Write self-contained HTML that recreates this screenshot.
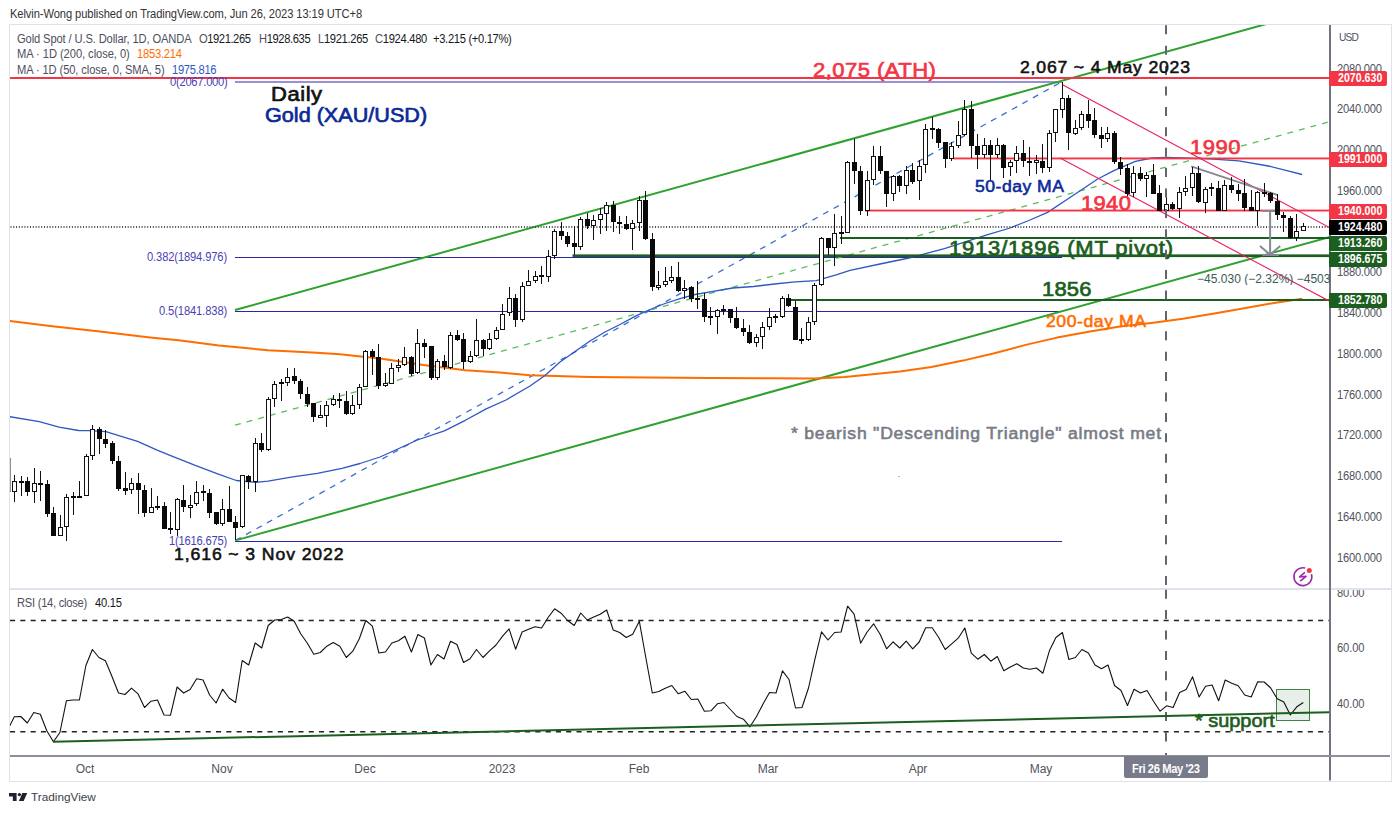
<!DOCTYPE html><html><head><meta charset="utf-8"><title>Gold Spot / U.S. Dollar</title><style>
html,body{margin:0;padding:0;background:#fff}
body{width:1400px;height:814px;position:relative;overflow:hidden;font-family:"Liberation Sans", sans-serif}
.t{position:absolute;white-space:nowrap;line-height:1}
.c{transform:translateX(-50%)}
.lb{position:absolute;left:1329px;width:58px;height:15px;border-radius:1px 2px 2px 1px;color:#fff;font-weight:bold;font-size:12px;line-height:15px;white-space:nowrap}
.lb span{display:inline-block;transform-origin:0 50%;transform:scaleX(.885);margin-left:8.6px}
#frame{position:absolute;left:9px;top:24px;width:1381px;height:756px;border:1px solid #dfe2ea;box-sizing:content-box}
</style></head><body>
<div id="frame"></div>
<div style="position:absolute;left:10px;top:588px;width:1381px;height:1.5px;background:#e0e3eb"></div>
<svg width="1400" height="814" viewBox="0 0 1400 814" style="position:absolute;left:0;top:0">
<defs><clipPath id="cm"><rect x="10" y="25" width="1319.5" height="563"/></clipPath><clipPath id="cr"><rect x="10" y="590" width="1319.5" height="165"/></clipPath></defs>
<g clip-path="url(#cm)">
<line x1="235.00" y1="82.00" x2="1062.00" y2="82.00" stroke="#2d25a8" stroke-width="1" />
<line x1="235.00" y1="257.50" x2="1062.00" y2="257.50" stroke="#2d25a8" stroke-width="1" />
<line x1="235.00" y1="311.50" x2="1062.00" y2="311.50" stroke="#2d25a8" stroke-width="1" />
<line x1="235.00" y1="541.50" x2="1062.00" y2="541.50" stroke="#2d25a8" stroke-width="1" />
<line x1="235.50" y1="540.40" x2="1062.00" y2="81.70" stroke="#3b6fd0" stroke-width="1.3" stroke-dasharray="6 6"/>
<line x1="235.50" y1="540.40" x2="1330.00" y2="236.90" stroke="#2ea12e" stroke-width="2" />
<line x1="235.00" y1="310.00" x2="1270.00" y2="22.99" stroke="#2ea12e" stroke-width="2" />
<line x1="235.00" y1="425.20" x2="1330.00" y2="121.56" stroke="#5dbb5d" stroke-width="1.3" stroke-dasharray="6 6"/>
<polyline points="9.8,321.0 50.0,326.0 100.0,331.5 150.0,337.5 178.6,340.3 219.0,345.4 268.0,350.3 317.0,352.8 340.0,354.2 381.8,358.7 423.5,365.0 465.3,370.2 500.0,372.5 530.0,375.3 590.0,377.0 650.0,377.6 710.0,377.9 770.0,378.2 815.0,378.4 845.0,377.0 875.0,374.0 900.0,371.4 931.4,366.9 962.9,360.6 994.3,353.3 1025.7,344.9 1057.1,337.6 1088.6,331.7 1120.0,326.6 1151.4,322.9 1182.9,318.8 1214.3,313.4 1245.7,308.1 1277.1,302.4 1302.3,298.7" fill="none" stroke="#ff6d00" stroke-width="2" stroke-linejoin="round" />
<polyline points="9.8,416.7 39.3,421.6 59.0,427.1 78.6,430.5 88.4,430.6 106.0,431.6 118.0,435.4 137.6,441.3 157.2,450.1 170.0,455.4 194.6,465.2 219.0,474.3 236.3,480.5 256.0,482.4 268.0,481.2 292.8,476.8 317.3,473.4 342.0,468.4 360.0,463.5 380.0,457.0 400.0,448.0 417.3,440.0 444.4,430.8 465.3,420.3 486.2,408.9 506.0,400.0 530.0,386.0 545.0,375.5 560.0,362.0 575.0,351.5 590.0,341.0 605.0,332.0 620.0,324.5 635.0,316.4 650.0,309.5 665.0,303.5 680.0,298.6 695.0,294.5 711.8,291.6 732.6,288.0 753.5,286.5 774.4,284.0 795.3,281.9 816.2,280.6 837.0,274.6 850.0,270.4 880.0,264.0 909.0,258.0 944.4,248.7 986.2,235.1 1010.0,228.0 1030.0,220.0 1047.6,212.4 1072.6,195.7 1097.7,179.0 1114.4,170.3 1135.3,161.3 1152.0,158.0 1166.6,157.5 1189.7,158.1 1209.3,158.9 1238.8,160.9 1268.3,166.0 1287.9,170.8 1302.1,174.5" fill="none" stroke="#2e57c2" stroke-width="1.3" stroke-linejoin="round" />
<line x1="10.5" y1="227" x2="1330" y2="227" stroke="#4a4a4a" stroke-width="2" stroke-dasharray="1 1.79"/>
<line x1="10.00" y1="78.00" x2="1330.00" y2="78.00" stroke="#f23645" stroke-width="2" />
<rect x="952.8" y="157.5" width="377" height="1.9" fill="#f23645"/>
<rect x="865" y="209.6" width="465" height="1.9" fill="#f23645"/>
<line x1="840.00" y1="238.00" x2="1330.00" y2="238.00" stroke="#1b5e20" stroke-width="2" />
<rect x="572.5" y="254.4" width="757" height="2.7" fill="#1b5e20"/>
<line x1="790.00" y1="300.00" x2="1330.00" y2="300.00" stroke="#1b5e20" stroke-width="2" />
<line x1="1062.00" y1="84.60" x2="1330.00" y2="227.85" stroke="#e91e63" stroke-width="1.1" />
<line x1="1060.00" y1="158.00" x2="1330.00" y2="301.48" stroke="#e91e63" stroke-width="1.1" />
<line x1="1191.20" y1="166.40" x2="1277.10" y2="194.90" stroke="#868993" stroke-width="2" />
<line x1="1262.40" y1="211.00" x2="1277.10" y2="211.00" stroke="#868993" stroke-width="2" />
<line x1="1262.40" y1="255.00" x2="1279.00" y2="255.00" stroke="#868993" stroke-width="2" />
<line x1="1270.10" y1="210.80" x2="1270.10" y2="254.50" stroke="#868993" stroke-width="2" />
<polyline points="1260.0,246.0 1270.1,254.8 1280.2,246.0" fill="none" stroke="#868993" stroke-width="2" stroke-linejoin="round" />
<line x1="10" y1="458" x2="10" y2="492" stroke="#222" stroke-width="1"/>
<g>
<rect x="14.0" y="475" width="1" height="27" fill="#111"/>
<rect x="12.0" y="481" width="5" height="11" fill="#111"/><rect x="13.0" y="482" width="3" height="9" fill="#fff"/>
<rect x="21.0" y="476" width="1" height="20" fill="#111"/>
<rect x="19.0" y="481" width="5" height="2" fill="#0a0a0a"/>
<rect x="27.0" y="477" width="1" height="19" fill="#111"/>
<rect x="25.0" y="481" width="5" height="11" fill="#0a0a0a"/>
<rect x="34.0" y="468" width="1" height="35" fill="#111"/>
<rect x="32.0" y="483" width="5" height="9" fill="#111"/><rect x="33.0" y="484" width="3" height="7" fill="#fff"/>
<rect x="40.0" y="471" width="1" height="30" fill="#111"/>
<rect x="38.0" y="483" width="5" height="2" fill="#0a0a0a"/>
<rect x="47.0" y="480" width="1" height="37" fill="#111"/>
<rect x="45.0" y="484" width="5" height="30" fill="#0a0a0a"/>
<rect x="53.0" y="507" width="1" height="29" fill="#111"/>
<rect x="51.0" y="513" width="5" height="23" fill="#0a0a0a"/>
<rect x="60.0" y="515" width="1" height="21" fill="#111"/>
<rect x="58.0" y="527" width="5" height="9" fill="#111"/><rect x="59.0" y="528" width="3" height="7" fill="#fff"/>
<rect x="66.0" y="494" width="1" height="47" fill="#111"/>
<rect x="64.0" y="497" width="5" height="30" fill="#111"/><rect x="65.0" y="498" width="3" height="28" fill="#fff"/>
<rect x="73.0" y="492" width="1" height="23" fill="#111"/>
<rect x="71.0" y="496" width="5" height="2" fill="#0a0a0a"/>
<rect x="79.0" y="481" width="1" height="16" fill="#111"/>
<rect x="77.0" y="496" width="5" height="2" fill="#0a0a0a"/>
<rect x="86.0" y="454" width="1" height="42" fill="#111"/>
<rect x="84.0" y="456" width="5" height="40" fill="#111"/><rect x="85.0" y="457" width="3" height="38" fill="#fff"/>
<rect x="92.0" y="425" width="1" height="35" fill="#111"/>
<rect x="90.0" y="429" width="5" height="27" fill="#111"/><rect x="91.0" y="430" width="3" height="25" fill="#fff"/>
<rect x="99.0" y="427" width="1" height="27" fill="#111"/>
<rect x="97.0" y="429" width="5" height="10" fill="#0a0a0a"/>
<rect x="105.0" y="430" width="1" height="18" fill="#111"/>
<rect x="103.0" y="439" width="5" height="5" fill="#0a0a0a"/>
<rect x="112.0" y="441" width="1" height="23" fill="#111"/>
<rect x="110.0" y="443" width="5" height="18" fill="#0a0a0a"/>
<rect x="118.0" y="456" width="1" height="35" fill="#111"/>
<rect x="116.0" y="461" width="5" height="28" fill="#0a0a0a"/>
<rect x="125.0" y="472" width="1" height="23" fill="#111"/>
<rect x="123.0" y="488" width="5" height="3" fill="#0a0a0a"/>
<rect x="131.0" y="478" width="1" height="16" fill="#111"/>
<rect x="129.0" y="483" width="5" height="7" fill="#111"/><rect x="130.0" y="484" width="3" height="5" fill="#fff"/>
<rect x="138.0" y="473" width="1" height="41" fill="#111"/>
<rect x="136.0" y="483" width="5" height="7" fill="#0a0a0a"/>
<rect x="144.0" y="485" width="1" height="32" fill="#111"/>
<rect x="142.0" y="490" width="5" height="23" fill="#0a0a0a"/>
<rect x="151.0" y="488" width="1" height="25" fill="#111"/>
<rect x="149.0" y="507" width="5" height="6" fill="#111"/><rect x="150.0" y="508" width="3" height="4" fill="#fff"/>
<rect x="157.0" y="496" width="1" height="14" fill="#111"/>
<rect x="155.0" y="506" width="5" height="2" fill="#0a0a0a"/>
<rect x="164.0" y="502" width="1" height="27" fill="#111"/>
<rect x="162.0" y="506" width="5" height="23" fill="#0a0a0a"/>
<rect x="170.0" y="512" width="1" height="22" fill="#111"/>
<rect x="168.0" y="528" width="5" height="2" fill="#0a0a0a"/>
<rect x="177.0" y="498" width="1" height="38" fill="#111"/>
<rect x="175.0" y="499" width="5" height="31" fill="#111"/><rect x="176.0" y="500" width="3" height="29" fill="#fff"/>
<rect x="183.0" y="485" width="1" height="27" fill="#111"/>
<rect x="181.0" y="500" width="5" height="7" fill="#0a0a0a"/>
<rect x="190.0" y="495" width="1" height="23" fill="#111"/>
<rect x="188.0" y="505" width="5" height="3" fill="#111"/><rect x="189.0" y="506" width="3" height="1" fill="#fff"/>
<rect x="196.0" y="481" width="1" height="25" fill="#111"/>
<rect x="194.0" y="492" width="5" height="12" fill="#111"/><rect x="195.0" y="493" width="3" height="10" fill="#fff"/>
<rect x="203.0" y="485" width="1" height="16" fill="#111"/>
<rect x="201.0" y="491" width="5" height="2" fill="#0a0a0a"/>
<rect x="209.0" y="489" width="1" height="29" fill="#111"/>
<rect x="207.0" y="493" width="5" height="20" fill="#0a0a0a"/>
<rect x="216.0" y="512" width="1" height="13" fill="#111"/>
<rect x="214.0" y="512" width="5" height="12" fill="#0a0a0a"/>
<rect x="222.0" y="499" width="1" height="27" fill="#111"/>
<rect x="220.0" y="509" width="5" height="15" fill="#111"/><rect x="221.0" y="510" width="3" height="13" fill="#fff"/>
<rect x="229.0" y="486" width="1" height="36" fill="#111"/>
<rect x="227.0" y="509" width="5" height="13" fill="#0a0a0a"/>
<rect x="235.0" y="516" width="1" height="24" fill="#111"/>
<rect x="233.0" y="522" width="5" height="6" fill="#0a0a0a"/>
<rect x="242.0" y="475" width="1" height="53" fill="#111"/>
<rect x="240.0" y="475" width="5" height="52" fill="#111"/><rect x="241.0" y="476" width="3" height="50" fill="#fff"/>
<rect x="248.0" y="475" width="1" height="14" fill="#111"/>
<rect x="246.0" y="476" width="5" height="6" fill="#0a0a0a"/>
<rect x="255.0" y="438" width="1" height="54" fill="#111"/>
<rect x="253.0" y="443" width="5" height="39" fill="#111"/><rect x="254.0" y="444" width="3" height="37" fill="#fff"/>
<rect x="261.0" y="433" width="1" height="19" fill="#111"/>
<rect x="259.0" y="443" width="5" height="7" fill="#0a0a0a"/>
<rect x="268.0" y="397" width="1" height="54" fill="#111"/>
<rect x="266.0" y="399" width="5" height="51" fill="#111"/><rect x="267.0" y="400" width="3" height="49" fill="#fff"/>
<rect x="274.0" y="381" width="1" height="26" fill="#111"/>
<rect x="272.0" y="384" width="5" height="15" fill="#111"/><rect x="273.0" y="385" width="3" height="13" fill="#fff"/>
<rect x="281.0" y="379" width="1" height="22" fill="#111"/>
<rect x="279.0" y="382" width="5" height="2" fill="#0a0a0a"/>
<rect x="287.0" y="368" width="1" height="18" fill="#111"/>
<rect x="285.0" y="377" width="5" height="6" fill="#111"/><rect x="286.0" y="378" width="3" height="4" fill="#fff"/>
<rect x="294.0" y="368" width="1" height="16" fill="#111"/>
<rect x="292.0" y="376" width="5" height="5" fill="#0a0a0a"/>
<rect x="300.0" y="379" width="1" height="20" fill="#111"/>
<rect x="298.0" y="381" width="5" height="13" fill="#0a0a0a"/>
<rect x="307.0" y="387" width="1" height="20" fill="#111"/>
<rect x="305.0" y="394" width="5" height="10" fill="#0a0a0a"/>
<rect x="313.0" y="403" width="1" height="19" fill="#111"/>
<rect x="311.0" y="403" width="5" height="14" fill="#0a0a0a"/>
<rect x="320.0" y="405" width="1" height="13" fill="#111"/>
<rect x="318.0" y="415" width="5" height="3" fill="#111"/><rect x="319.0" y="416" width="3" height="1" fill="#fff"/>
<rect x="326.0" y="401" width="1" height="26" fill="#111"/>
<rect x="324.0" y="405" width="5" height="11" fill="#111"/><rect x="325.0" y="406" width="3" height="9" fill="#fff"/>
<rect x="333.0" y="395" width="1" height="11" fill="#111"/>
<rect x="331.0" y="399" width="5" height="6" fill="#111"/><rect x="332.0" y="400" width="3" height="4" fill="#fff"/>
<rect x="339.0" y="393" width="1" height="15" fill="#111"/>
<rect x="337.0" y="399" width="5" height="2" fill="#0a0a0a"/>
<rect x="346.0" y="391" width="1" height="24" fill="#111"/>
<rect x="344.0" y="401" width="5" height="13" fill="#0a0a0a"/>
<rect x="352.0" y="395" width="1" height="20" fill="#111"/>
<rect x="350.0" y="405" width="5" height="9" fill="#111"/><rect x="351.0" y="406" width="3" height="7" fill="#fff"/>
<rect x="359.0" y="384" width="1" height="25" fill="#111"/>
<rect x="357.0" y="387" width="5" height="18" fill="#111"/><rect x="358.0" y="388" width="3" height="16" fill="#fff"/>
<rect x="365.0" y="350" width="1" height="37" fill="#111"/>
<rect x="363.0" y="351" width="5" height="36" fill="#111"/><rect x="364.0" y="352" width="3" height="34" fill="#fff"/>
<rect x="372.0" y="349" width="1" height="26" fill="#111"/>
<rect x="370.0" y="351" width="5" height="6" fill="#0a0a0a"/>
<rect x="378.0" y="344" width="1" height="45" fill="#111"/>
<rect x="376.0" y="357" width="5" height="29" fill="#0a0a0a"/>
<rect x="385.0" y="373" width="1" height="14" fill="#111"/>
<rect x="383.0" y="383" width="5" height="3" fill="#111"/><rect x="384.0" y="384" width="3" height="1" fill="#fff"/>
<rect x="391.0" y="363" width="1" height="21" fill="#111"/>
<rect x="389.0" y="368" width="5" height="16" fill="#111"/><rect x="390.0" y="369" width="3" height="14" fill="#fff"/>
<rect x="398.0" y="359" width="1" height="13" fill="#111"/>
<rect x="396.0" y="365" width="5" height="3" fill="#111"/><rect x="397.0" y="366" width="3" height="1" fill="#fff"/>
<rect x="404.0" y="347" width="1" height="19" fill="#111"/>
<rect x="402.0" y="357" width="5" height="8" fill="#111"/><rect x="403.0" y="358" width="3" height="6" fill="#fff"/>
<rect x="411.0" y="356" width="1" height="20" fill="#111"/>
<rect x="409.0" y="357" width="5" height="17" fill="#0a0a0a"/>
<rect x="417.0" y="329" width="1" height="45" fill="#111"/>
<rect x="415.0" y="343" width="5" height="30" fill="#111"/><rect x="416.0" y="344" width="3" height="28" fill="#fff"/>
<rect x="424.0" y="339" width="1" height="19" fill="#111"/>
<rect x="422.0" y="343" width="5" height="4" fill="#0a0a0a"/>
<rect x="431.0" y="346" width="1" height="34" fill="#111"/>
<rect x="429.0" y="346" width="5" height="32" fill="#0a0a0a"/>
<rect x="437.0" y="359" width="1" height="21" fill="#111"/>
<rect x="435.0" y="361" width="5" height="17" fill="#111"/><rect x="436.0" y="362" width="3" height="15" fill="#fff"/>
<rect x="444.0" y="355" width="1" height="15" fill="#111"/>
<rect x="442.0" y="361" width="5" height="6" fill="#0a0a0a"/>
<rect x="450.0" y="332" width="1" height="37" fill="#111"/>
<rect x="448.0" y="335" width="5" height="33" fill="#111"/><rect x="449.0" y="336" width="3" height="31" fill="#fff"/>
<rect x="457.0" y="330" width="1" height="11" fill="#111"/>
<rect x="455.0" y="335" width="5" height="5" fill="#0a0a0a"/>
<rect x="463.0" y="333" width="1" height="36" fill="#111"/>
<rect x="461.0" y="339" width="5" height="23" fill="#0a0a0a"/>
<rect x="470.0" y="351" width="1" height="12" fill="#111"/>
<rect x="468.0" y="356" width="5" height="6" fill="#111"/><rect x="469.0" y="357" width="3" height="4" fill="#fff"/>
<rect x="476.0" y="319" width="1" height="38" fill="#111"/>
<rect x="474.0" y="340" width="5" height="16" fill="#111"/><rect x="475.0" y="341" width="3" height="14" fill="#fff"/>
<rect x="483.0" y="339" width="1" height="17" fill="#111"/>
<rect x="481.0" y="340" width="5" height="9" fill="#0a0a0a"/>
<rect x="489.0" y="333" width="1" height="17" fill="#111"/>
<rect x="487.0" y="339" width="5" height="10" fill="#111"/><rect x="488.0" y="340" width="3" height="8" fill="#fff"/>
<rect x="496.0" y="327" width="1" height="13" fill="#111"/>
<rect x="494.0" y="330" width="5" height="9" fill="#111"/><rect x="495.0" y="331" width="3" height="7" fill="#fff"/>
<rect x="502.0" y="304" width="1" height="26" fill="#111"/>
<rect x="500.0" y="314" width="5" height="16" fill="#111"/><rect x="501.0" y="315" width="3" height="14" fill="#fff"/>
<rect x="509.0" y="287" width="1" height="29" fill="#111"/>
<rect x="507.0" y="298" width="5" height="15" fill="#111"/><rect x="508.0" y="299" width="3" height="13" fill="#fff"/>
<rect x="515.0" y="294" width="1" height="33" fill="#111"/>
<rect x="513.0" y="298" width="5" height="22" fill="#0a0a0a"/>
<rect x="522.0" y="282" width="1" height="40" fill="#111"/>
<rect x="520.0" y="286" width="5" height="34" fill="#111"/><rect x="521.0" y="287" width="3" height="32" fill="#fff"/>
<rect x="528.0" y="270" width="1" height="16" fill="#111"/>
<rect x="526.0" y="281" width="5" height="5" fill="#111"/><rect x="527.0" y="282" width="3" height="3" fill="#fff"/>
<rect x="535.0" y="271" width="1" height="12" fill="#111"/>
<rect x="533.0" y="276" width="5" height="5" fill="#111"/><rect x="534.0" y="277" width="3" height="3" fill="#fff"/>
<rect x="541.0" y="266" width="1" height="18" fill="#111"/>
<rect x="539.0" y="275" width="5" height="2" fill="#0a0a0a"/>
<rect x="548.0" y="250" width="1" height="32" fill="#111"/>
<rect x="546.0" y="256" width="5" height="21" fill="#111"/><rect x="547.0" y="257" width="3" height="19" fill="#fff"/>
<rect x="554.0" y="229" width="1" height="30" fill="#111"/>
<rect x="552.0" y="231" width="5" height="25" fill="#111"/><rect x="553.0" y="232" width="3" height="23" fill="#fff"/>
<rect x="561.0" y="222" width="1" height="18" fill="#111"/>
<rect x="559.0" y="231" width="5" height="5" fill="#0a0a0a"/>
<rect x="567.0" y="232" width="1" height="15" fill="#111"/>
<rect x="565.0" y="236" width="5" height="8" fill="#0a0a0a"/>
<rect x="574.0" y="226" width="1" height="29" fill="#111"/>
<rect x="572.0" y="243" width="5" height="4" fill="#0a0a0a"/>
<rect x="580.0" y="217" width="1" height="33" fill="#111"/>
<rect x="578.0" y="219" width="5" height="28" fill="#111"/><rect x="579.0" y="220" width="3" height="26" fill="#fff"/>
<rect x="587.0" y="213" width="1" height="16" fill="#111"/>
<rect x="585.0" y="219" width="5" height="7" fill="#0a0a0a"/>
<rect x="593.0" y="215" width="1" height="25" fill="#111"/>
<rect x="591.0" y="220" width="5" height="6" fill="#111"/><rect x="592.0" y="221" width="3" height="4" fill="#fff"/>
<rect x="600.0" y="208" width="1" height="26" fill="#111"/>
<rect x="598.0" y="214" width="5" height="6" fill="#111"/><rect x="599.0" y="215" width="3" height="4" fill="#fff"/>
<rect x="606.0" y="202" width="1" height="29" fill="#111"/>
<rect x="604.0" y="205" width="5" height="9" fill="#111"/><rect x="605.0" y="206" width="3" height="7" fill="#fff"/>
<rect x="613.0" y="201" width="1" height="31" fill="#111"/>
<rect x="611.0" y="205" width="5" height="17" fill="#0a0a0a"/>
<rect x="619.0" y="216" width="1" height="18" fill="#111"/>
<rect x="617.0" y="222" width="5" height="2" fill="#0a0a0a"/>
<rect x="626.0" y="216" width="1" height="14" fill="#111"/>
<rect x="624.0" y="224" width="5" height="5" fill="#0a0a0a"/>
<rect x="632.0" y="220" width="1" height="30" fill="#111"/>
<rect x="630.0" y="223" width="5" height="6" fill="#111"/><rect x="631.0" y="224" width="3" height="4" fill="#fff"/>
<rect x="639.0" y="196" width="1" height="35" fill="#111"/>
<rect x="637.0" y="200" width="5" height="23" fill="#111"/><rect x="638.0" y="201" width="3" height="21" fill="#fff"/>
<rect x="645.0" y="191" width="1" height="49" fill="#111"/>
<rect x="643.0" y="200" width="5" height="39" fill="#0a0a0a"/>
<rect x="652.0" y="233" width="1" height="58" fill="#111"/>
<rect x="650.0" y="239" width="5" height="48" fill="#0a0a0a"/>
<rect x="658.0" y="271" width="1" height="19" fill="#111"/>
<rect x="656.0" y="285" width="5" height="3" fill="#111"/><rect x="657.0" y="286" width="3" height="1" fill="#fff"/>
<rect x="665.0" y="267" width="1" height="20" fill="#111"/>
<rect x="663.0" y="281" width="5" height="4" fill="#111"/><rect x="664.0" y="282" width="3" height="2" fill="#fff"/>
<rect x="671.0" y="266" width="1" height="17" fill="#111"/>
<rect x="669.0" y="277" width="5" height="4" fill="#111"/><rect x="670.0" y="278" width="3" height="2" fill="#fff"/>
<rect x="678.0" y="262" width="1" height="30" fill="#111"/>
<rect x="676.0" y="277" width="5" height="14" fill="#0a0a0a"/>
<rect x="684.0" y="280" width="1" height="19" fill="#111"/>
<rect x="682.0" y="288" width="5" height="3" fill="#111"/><rect x="683.0" y="289" width="3" height="1" fill="#fff"/>
<rect x="691.0" y="286" width="1" height="16" fill="#111"/>
<rect x="689.0" y="287" width="5" height="12" fill="#0a0a0a"/>
<rect x="697.0" y="281" width="1" height="28" fill="#111"/>
<rect x="695.0" y="298" width="5" height="2" fill="#0a0a0a"/>
<rect x="704.0" y="293" width="1" height="29" fill="#111"/>
<rect x="702.0" y="299" width="5" height="18" fill="#0a0a0a"/>
<rect x="710.0" y="307" width="1" height="18" fill="#111"/>
<rect x="708.0" y="316" width="5" height="2" fill="#0a0a0a"/>
<rect x="717.0" y="309" width="1" height="25" fill="#111"/>
<rect x="715.0" y="310" width="5" height="7" fill="#111"/><rect x="716.0" y="311" width="3" height="5" fill="#fff"/>
<rect x="723.0" y="305" width="1" height="10" fill="#111"/>
<rect x="721.0" y="309" width="5" height="2" fill="#0a0a0a"/>
<rect x="730.0" y="309" width="1" height="14" fill="#111"/>
<rect x="728.0" y="309" width="5" height="9" fill="#0a0a0a"/>
<rect x="736.0" y="307" width="1" height="22" fill="#111"/>
<rect x="734.0" y="318" width="5" height="10" fill="#0a0a0a"/>
<rect x="743.0" y="319" width="1" height="17" fill="#111"/>
<rect x="741.0" y="328" width="5" height="4" fill="#0a0a0a"/>
<rect x="749.0" y="325" width="1" height="19" fill="#111"/>
<rect x="747.0" y="332" width="5" height="11" fill="#0a0a0a"/>
<rect x="756.0" y="334" width="1" height="13" fill="#111"/>
<rect x="754.0" y="337" width="5" height="6" fill="#111"/><rect x="755.0" y="338" width="3" height="4" fill="#fff"/>
<rect x="762.0" y="322" width="1" height="27" fill="#111"/>
<rect x="760.0" y="327" width="5" height="10" fill="#111"/><rect x="761.0" y="328" width="3" height="8" fill="#fff"/>
<rect x="769.0" y="308" width="1" height="22" fill="#111"/>
<rect x="767.0" y="317" width="5" height="10" fill="#111"/><rect x="768.0" y="318" width="3" height="8" fill="#fff"/>
<rect x="775.0" y="314" width="1" height="9" fill="#111"/>
<rect x="773.0" y="316" width="5" height="2" fill="#0a0a0a"/>
<rect x="782.0" y="296" width="1" height="22" fill="#111"/>
<rect x="780.0" y="298" width="5" height="19" fill="#111"/><rect x="781.0" y="299" width="3" height="17" fill="#fff"/>
<rect x="788.0" y="294" width="1" height="13" fill="#111"/>
<rect x="786.0" y="298" width="5" height="8" fill="#0a0a0a"/>
<rect x="795.0" y="301" width="1" height="39" fill="#111"/>
<rect x="793.0" y="307" width="5" height="33" fill="#0a0a0a"/>
<rect x="801.0" y="328" width="1" height="16" fill="#111"/>
<rect x="799.0" y="339" width="5" height="2" fill="#0a0a0a"/>
<rect x="808.0" y="317" width="1" height="24" fill="#111"/>
<rect x="806.0" y="322" width="5" height="18" fill="#111"/><rect x="807.0" y="323" width="3" height="16" fill="#fff"/>
<rect x="814.0" y="283" width="1" height="42" fill="#111"/>
<rect x="812.0" y="285" width="5" height="37" fill="#111"/><rect x="813.0" y="286" width="3" height="35" fill="#fff"/>
<rect x="821.0" y="237" width="1" height="49" fill="#111"/>
<rect x="819.0" y="238" width="5" height="47" fill="#111"/><rect x="820.0" y="239" width="3" height="45" fill="#fff"/>
<rect x="828.0" y="238" width="1" height="17" fill="#111"/>
<rect x="826.0" y="238" width="5" height="10" fill="#0a0a0a"/>
<rect x="834.0" y="214" width="1" height="52" fill="#111"/>
<rect x="832.0" y="233" width="5" height="15" fill="#111"/><rect x="833.0" y="234" width="3" height="13" fill="#fff"/>
<rect x="841.0" y="216" width="1" height="28" fill="#111"/>
<rect x="839.0" y="232" width="5" height="2" fill="#0a0a0a"/>
<rect x="847.0" y="161" width="1" height="72" fill="#111"/>
<rect x="845.0" y="162" width="5" height="71" fill="#111"/><rect x="846.0" y="163" width="3" height="69" fill="#fff"/>
<rect x="854.0" y="139" width="1" height="45" fill="#111"/>
<rect x="852.0" y="162" width="5" height="9" fill="#0a0a0a"/>
<rect x="860.0" y="166" width="1" height="49" fill="#111"/>
<rect x="858.0" y="171" width="5" height="40" fill="#0a0a0a"/>
<rect x="867.0" y="171" width="1" height="45" fill="#111"/>
<rect x="865.0" y="180" width="5" height="31" fill="#111"/><rect x="866.0" y="181" width="3" height="29" fill="#fff"/>
<rect x="873.0" y="146" width="1" height="39" fill="#111"/>
<rect x="871.0" y="156" width="5" height="24" fill="#111"/><rect x="872.0" y="157" width="3" height="22" fill="#fff"/>
<rect x="880.0" y="146" width="1" height="28" fill="#111"/>
<rect x="878.0" y="156" width="5" height="15" fill="#0a0a0a"/>
<rect x="886.0" y="171" width="1" height="36" fill="#111"/>
<rect x="884.0" y="171" width="5" height="23" fill="#0a0a0a"/>
<rect x="893.0" y="175" width="1" height="26" fill="#111"/>
<rect x="891.0" y="176" width="5" height="18" fill="#111"/><rect x="892.0" y="177" width="3" height="16" fill="#fff"/>
<rect x="899.0" y="175" width="1" height="17" fill="#111"/>
<rect x="897.0" y="176" width="5" height="10" fill="#0a0a0a"/>
<rect x="906.0" y="166" width="1" height="28" fill="#111"/>
<rect x="904.0" y="170" width="5" height="16" fill="#111"/><rect x="905.0" y="171" width="3" height="14" fill="#fff"/>
<rect x="912.0" y="163" width="1" height="21" fill="#111"/>
<rect x="910.0" y="170" width="5" height="12" fill="#0a0a0a"/>
<rect x="919.0" y="160" width="1" height="40" fill="#111"/>
<rect x="917.0" y="166" width="5" height="15" fill="#111"/><rect x="918.0" y="167" width="3" height="13" fill="#fff"/>
<rect x="925.0" y="124" width="1" height="49" fill="#111"/>
<rect x="923.0" y="129" width="5" height="36" fill="#111"/><rect x="924.0" y="130" width="3" height="34" fill="#fff"/>
<rect x="932.0" y="117" width="1" height="22" fill="#111"/>
<rect x="930.0" y="128" width="5" height="2" fill="#0a0a0a"/>
<rect x="938.0" y="128" width="1" height="20" fill="#111"/>
<rect x="936.0" y="129" width="5" height="14" fill="#0a0a0a"/>
<rect x="945.0" y="142" width="1" height="26" fill="#111"/>
<rect x="943.0" y="142" width="5" height="17" fill="#0a0a0a"/>
<rect x="951.0" y="142" width="1" height="19" fill="#111"/>
<rect x="949.0" y="146" width="5" height="13" fill="#111"/><rect x="950.0" y="147" width="3" height="11" fill="#fff"/>
<rect x="958.0" y="121" width="1" height="27" fill="#111"/>
<rect x="956.0" y="135" width="5" height="11" fill="#111"/><rect x="957.0" y="136" width="3" height="9" fill="#fff"/>
<rect x="964.0" y="100" width="1" height="36" fill="#111"/>
<rect x="962.0" y="109" width="5" height="26" fill="#111"/><rect x="963.0" y="110" width="3" height="24" fill="#fff"/>
<rect x="971.0" y="101" width="1" height="57" fill="#111"/>
<rect x="969.0" y="109" width="5" height="37" fill="#0a0a0a"/>
<rect x="977.0" y="134" width="1" height="35" fill="#111"/>
<rect x="975.0" y="146" width="5" height="9" fill="#0a0a0a"/>
<rect x="984.0" y="138" width="1" height="20" fill="#111"/>
<rect x="982.0" y="145" width="5" height="10" fill="#111"/><rect x="983.0" y="146" width="3" height="8" fill="#fff"/>
<rect x="990.0" y="140" width="1" height="40" fill="#111"/>
<rect x="988.0" y="145" width="5" height="10" fill="#0a0a0a"/>
<rect x="997.0" y="138" width="1" height="20" fill="#111"/>
<rect x="995.0" y="145" width="5" height="10" fill="#111"/><rect x="996.0" y="146" width="3" height="8" fill="#fff"/>
<rect x="1003.0" y="144" width="1" height="34" fill="#111"/>
<rect x="1001.0" y="145" width="5" height="23" fill="#0a0a0a"/>
<rect x="1010.0" y="160" width="1" height="16" fill="#111"/>
<rect x="1008.0" y="162" width="5" height="5" fill="#111"/><rect x="1009.0" y="163" width="3" height="3" fill="#fff"/>
<rect x="1016.0" y="146" width="1" height="27" fill="#111"/>
<rect x="1014.0" y="153" width="5" height="8" fill="#111"/><rect x="1015.0" y="154" width="3" height="6" fill="#fff"/>
<rect x="1023.0" y="140" width="1" height="27" fill="#111"/>
<rect x="1021.0" y="153" width="5" height="8" fill="#0a0a0a"/>
<rect x="1029.0" y="147" width="1" height="29" fill="#111"/>
<rect x="1027.0" y="161" width="5" height="2" fill="#0a0a0a"/>
<rect x="1036.0" y="155" width="1" height="19" fill="#111"/>
<rect x="1034.0" y="160" width="5" height="3" fill="#111"/><rect x="1035.0" y="161" width="3" height="1" fill="#fff"/>
<rect x="1042.0" y="144" width="1" height="29" fill="#111"/>
<rect x="1040.0" y="161" width="5" height="7" fill="#0a0a0a"/>
<rect x="1049.0" y="130" width="1" height="42" fill="#111"/>
<rect x="1047.0" y="133" width="5" height="35" fill="#111"/><rect x="1048.0" y="134" width="3" height="33" fill="#fff"/>
<rect x="1055.0" y="109" width="1" height="33" fill="#111"/>
<rect x="1053.0" y="109" width="5" height="24" fill="#111"/><rect x="1054.0" y="110" width="3" height="22" fill="#fff"/>
<rect x="1062.0" y="82" width="1" height="36" fill="#111"/>
<rect x="1060.0" y="98" width="5" height="12" fill="#111"/><rect x="1061.0" y="99" width="3" height="10" fill="#fff"/>
<rect x="1068.0" y="95" width="1" height="55" fill="#111"/>
<rect x="1066.0" y="98" width="5" height="35" fill="#0a0a0a"/>
<rect x="1075.0" y="120" width="1" height="15" fill="#111"/>
<rect x="1073.0" y="128" width="5" height="6" fill="#111"/><rect x="1074.0" y="129" width="3" height="4" fill="#fff"/>
<rect x="1081.0" y="111" width="1" height="19" fill="#111"/>
<rect x="1079.0" y="114" width="5" height="14" fill="#111"/><rect x="1080.0" y="115" width="3" height="12" fill="#fff"/>
<rect x="1088.0" y="100" width="1" height="28" fill="#111"/>
<rect x="1086.0" y="114" width="5" height="7" fill="#0a0a0a"/>
<rect x="1094.0" y="108" width="1" height="30" fill="#111"/>
<rect x="1092.0" y="120" width="5" height="15" fill="#0a0a0a"/>
<rect x="1101.0" y="127" width="1" height="21" fill="#111"/>
<rect x="1099.0" y="135" width="5" height="4" fill="#0a0a0a"/>
<rect x="1107.0" y="127" width="1" height="15" fill="#111"/>
<rect x="1105.0" y="133" width="5" height="6" fill="#111"/><rect x="1106.0" y="134" width="3" height="4" fill="#fff"/>
<rect x="1114.0" y="131" width="1" height="33" fill="#111"/>
<rect x="1112.0" y="133" width="5" height="29" fill="#0a0a0a"/>
<rect x="1120.0" y="157" width="1" height="18" fill="#111"/>
<rect x="1118.0" y="162" width="5" height="7" fill="#0a0a0a"/>
<rect x="1127.0" y="164" width="1" height="35" fill="#111"/>
<rect x="1125.0" y="168" width="5" height="26" fill="#0a0a0a"/>
<rect x="1133.0" y="166" width="1" height="31" fill="#111"/>
<rect x="1131.0" y="173" width="5" height="20" fill="#111"/><rect x="1132.0" y="174" width="3" height="18" fill="#fff"/>
<rect x="1140.0" y="167" width="1" height="14" fill="#111"/>
<rect x="1138.0" y="173" width="5" height="6" fill="#0a0a0a"/>
<rect x="1146.0" y="172" width="1" height="25" fill="#111"/>
<rect x="1144.0" y="175" width="5" height="4" fill="#111"/><rect x="1145.0" y="176" width="3" height="2" fill="#fff"/>
<rect x="1153.0" y="164" width="1" height="30" fill="#111"/>
<rect x="1151.0" y="175" width="5" height="19" fill="#0a0a0a"/>
<rect x="1159.0" y="185" width="1" height="26" fill="#111"/>
<rect x="1157.0" y="193" width="5" height="18" fill="#0a0a0a"/>
<rect x="1166.0" y="189" width="1" height="29" fill="#111"/>
<rect x="1164.0" y="204" width="5" height="7" fill="#111"/><rect x="1165.0" y="205" width="3" height="5" fill="#fff"/>
<rect x="1172.0" y="202" width="1" height="8" fill="#111"/>
<rect x="1170.0" y="204" width="5" height="5" fill="#0a0a0a"/>
<rect x="1179.0" y="187" width="1" height="31" fill="#111"/>
<rect x="1177.0" y="192" width="5" height="17" fill="#111"/><rect x="1178.0" y="193" width="3" height="15" fill="#fff"/>
<rect x="1185.0" y="176" width="1" height="20" fill="#111"/>
<rect x="1183.0" y="188" width="5" height="4" fill="#111"/><rect x="1184.0" y="189" width="3" height="2" fill="#fff"/>
<rect x="1192.0" y="167" width="1" height="29" fill="#111"/>
<rect x="1190.0" y="173" width="5" height="15" fill="#111"/><rect x="1191.0" y="174" width="3" height="13" fill="#fff"/>
<rect x="1198.0" y="166" width="1" height="37" fill="#111"/>
<rect x="1196.0" y="173" width="5" height="29" fill="#0a0a0a"/>
<rect x="1205.0" y="187" width="1" height="26" fill="#111"/>
<rect x="1203.0" y="189" width="5" height="14" fill="#111"/><rect x="1204.0" y="190" width="3" height="12" fill="#fff"/>
<rect x="1211.0" y="183" width="1" height="13" fill="#111"/>
<rect x="1209.0" y="187" width="5" height="2" fill="#0a0a0a"/>
<rect x="1218.0" y="181" width="1" height="30" fill="#111"/>
<rect x="1216.0" y="188" width="5" height="23" fill="#0a0a0a"/>
<rect x="1224.0" y="180" width="1" height="31" fill="#111"/>
<rect x="1222.0" y="185" width="5" height="26" fill="#111"/><rect x="1223.0" y="186" width="3" height="24" fill="#fff"/>
<rect x="1231.0" y="177" width="1" height="16" fill="#111"/>
<rect x="1229.0" y="185" width="5" height="5" fill="#0a0a0a"/>
<rect x="1238.0" y="184" width="1" height="17" fill="#111"/>
<rect x="1236.0" y="190" width="5" height="4" fill="#0a0a0a"/>
<rect x="1244.0" y="179" width="1" height="32" fill="#111"/>
<rect x="1242.0" y="193" width="5" height="15" fill="#0a0a0a"/>
<rect x="1251.0" y="190" width="1" height="21" fill="#111"/>
<rect x="1249.0" y="207" width="5" height="4" fill="#0a0a0a"/>
<rect x="1257.0" y="191" width="1" height="35" fill="#111"/>
<rect x="1255.0" y="192" width="5" height="19" fill="#111"/><rect x="1256.0" y="193" width="3" height="17" fill="#fff"/>
<rect x="1264.0" y="183" width="1" height="14" fill="#111"/>
<rect x="1262.0" y="192" width="5" height="2" fill="#0a0a0a"/>
<rect x="1270.0" y="192" width="1" height="11" fill="#111"/>
<rect x="1268.0" y="193" width="5" height="8" fill="#0a0a0a"/>
<rect x="1277.0" y="194" width="1" height="26" fill="#111"/>
<rect x="1275.0" y="201" width="5" height="14" fill="#0a0a0a"/>
<rect x="1283.0" y="212" width="1" height="20" fill="#111"/>
<rect x="1281.0" y="215" width="5" height="3" fill="#0a0a0a"/>
<rect x="1290.0" y="216" width="1" height="23" fill="#111"/>
<rect x="1288.0" y="218" width="5" height="20" fill="#0a0a0a"/>
<rect x="1296.0" y="214" width="1" height="27" fill="#111"/>
<rect x="1294.0" y="231" width="5" height="7" fill="#111"/><rect x="1295.0" y="232" width="3" height="5" fill="#fff"/>
<rect x="1303.0" y="223" width="1" height="8" fill="#111"/>
<rect x="1301.0" y="226" width="5" height="5" fill="#111"/><rect x="1302.0" y="227" width="3" height="3" fill="#fff"/>
</g>
</g>
<line x1="1166.00" y1="25.30" x2="1166.00" y2="588.00" stroke="#62656f" stroke-width="2" stroke-dasharray="9 11.4"/>
<line x1="1166.00" y1="589.70" x2="1166.00" y2="756.00" stroke="#62656f" stroke-width="2" stroke-dasharray="9 11.4"/>
<g clip-path="url(#cr)">
<line x1="10.00" y1="620.50" x2="1330.00" y2="620.50" stroke="#222" stroke-width="1.4" stroke-dasharray="5.1 5.2"/>
<line x1="10.00" y1="731.70" x2="1330.00" y2="731.70" stroke="#222" stroke-width="1.4" stroke-dasharray="5.1 5.2"/>
<rect x="1276.5" y="689.5" width="33" height="31" fill="#1b5e20" fill-opacity="0.1" stroke="#3d8540" stroke-width="1"/>
<polyline points="9.8,725.8 14.3,716.8 20.8,716.5 27.3,723.0 33.8,712.5 40.3,714.2 46.8,730.8 53.4,741.8 59.9,732.5 66.4,700.8 72.9,700.0 79.4,700.0 85.9,665.5 92.4,649.5 98.9,657.5 105.4,660.8 111.9,676.2 118.5,693.0 125.0,694.5 131.5,688.2 138.0,693.8 144.5,707.5 151.0,701.2 157.5,700.0 164.0,715.0 170.5,715.2 177.1,687.0 183.6,693.0 190.1,689.5 196.6,678.8 203.1,680.0 209.6,695.0 216.1,703.0 222.6,689.2 229.1,698.0 235.6,702.5 242.2,660.5 248.7,665.0 255.2,643.0 261.7,648.0 268.2,625.5 274.7,620.0 281.2,619.5 287.7,617.0 294.2,621.2 300.7,633.8 307.2,643.0 313.8,654.2 320.3,652.5 326.8,646.2 333.3,642.5 339.8,646.2 346.3,657.5 352.8,651.2 359.3,638.8 365.8,620.5 372.4,626.2 378.9,653.0 385.4,652.0 391.9,643.0 398.4,640.8 404.9,636.2 411.4,652.0 417.9,634.5 424.4,638.0 430.9,665.0 437.4,654.5 444.0,659.0 450.5,641.2 457.0,644.5 463.5,662.5 470.0,658.8 476.5,649.5 483.0,657.5 489.5,650.8 496.0,645.0 502.6,636.2 509.1,628.8 515.6,649.2 522.1,632.0 528.6,629.2 535.1,626.8 541.6,628.0 548.1,617.5 554.6,608.8 561.1,613.2 567.6,620.5 574.2,625.5 580.7,613.0 587.2,620.0 593.7,617.0 600.2,614.2 606.7,610.0 613.2,630.0 619.7,632.5 626.2,637.5 632.7,634.2 639.3,621.2 645.8,657.5 652.3,693.0 658.8,691.5 665.3,688.2 671.8,685.5 678.3,693.8 684.8,691.2 691.3,699.5 697.8,699.0 704.4,711.2 710.9,710.8 717.4,703.8 723.9,702.5 730.4,709.5 736.9,716.5 743.4,719.2 749.9,726.8 756.4,716.8 762.9,704.2 769.5,692.5 776.0,693.0 782.5,670.8 789.0,679.5 795.5,708.0 802.0,707.5 808.5,688.0 815.0,658.8 821.5,631.8 828.0,640.0 834.6,632.5 841.1,632.0 847.6,606.2 854.1,614.2 860.6,643.2 867.1,632.0 873.6,623.8 880.1,634.2 886.6,648.8 893.1,641.8 899.7,648.0 906.2,641.2 912.7,648.8 919.2,642.0 925.7,627.8 932.2,627.8 938.7,637.5 945.2,649.5 951.7,643.8 958.2,638.2 964.8,628.0 971.3,653.2 977.8,659.2 984.3,654.5 990.8,661.2 997.3,656.5 1003.8,670.8 1010.3,667.0 1016.8,663.8 1023.3,668.0 1029.9,669.2 1036.4,668.0 1042.9,673.2 1049.4,650.8 1055.9,637.5 1062.4,632.5 1068.9,659.5 1075.4,657.5 1081.9,649.5 1088.4,653.0 1095.0,665.0 1101.5,668.8 1108.0,665.0 1114.5,685.5 1121.0,690.5 1127.5,705.5 1134.0,689.2 1140.5,693.0 1147.0,690.5 1153.5,701.2 1160.1,711.2 1166.6,705.8 1173.1,707.5 1179.6,692.5 1186.1,689.5 1192.6,676.8 1199.1,697.0 1205.6,686.2 1212.1,685.0 1218.6,700.8 1225.2,680.0 1231.7,683.2 1238.2,685.8 1244.7,695.0 1251.2,697.0 1257.7,681.8 1264.2,682.0 1270.7,688.0 1277.2,698.8 1283.8,702.0 1290.3,715.0 1296.8,706.8 1303.3,702.5" fill="none" stroke="#111" stroke-width="1.1" stroke-linejoin="round" />
<line x1="53.30" y1="741.80" x2="1330.00" y2="712.20" stroke="#1b5e20" stroke-width="2" />
</g>
<g fill="none" stroke="#9c27b0" stroke-width="1.6"><path d="M1311.47 574.13 A8.95 8.95 0 1 1 1305.25 568.06"/><path d="M1304.9 572.4 L1299.6 576.9 L1306.1 576.3 L1300.2 581.2" stroke-width="1.5" stroke-linejoin="round"/></g><circle cx="1309.3" cy="570.5" r="2.5" fill="#f23645"/><rect x="898" y="476" width="2" height="1" fill="#4dd0e1" opacity="0.8"/>
</svg>
<svg width="4" height="757" style="position:absolute;left:1328px;top:25px"><line x1="2" y1="0" x2="2" y2="755.5" stroke="#6a6d79" stroke-width="1.9"/></svg>
<div style="position:absolute;left:10px;top:755px;width:1380px;height:2px;background:#8c8f99"></div>
<div style="position:absolute;left:1124.25px;top:755.75px;width:84px;height:21.75px;background:#787b8a;border-radius:0 0 2px 2px"></div>
<svg width="18.2" height="8.6" viewBox="0 0 36 18" preserveAspectRatio="none" style="position:absolute;left:9.2px;top:792.9px"><path d="M0 0h15v18H7.6V7.2H0z M26.5 0H36L28.5 18H19z" fill="#1e222d"/><circle cx="20.6" cy="3.3" r="3.3" fill="#1e222d"/></svg>
<div class="t" style="left:10.00px;top:7.84px;font-size:12px;color:#333;letter-spacing:-0.095px;transform-origin:0 0;transform:scaleX(0.9300);">Kelvin-Wong published on TradingView.com, Jun 26, 2023 13:19 UTC+8</div>
<div class="t" style="left:17.00px;top:32.84px;font-size:12px;color:#4c4f5b;letter-spacing:-0.131px;transform-origin:0 0;transform:scaleX(0.9300);">Gold Spot / U.S. Dollar, 1D, OANDA</div>
<div class="t" style="left:199.25px;top:32.84px;font-size:12px;color:#131722;letter-spacing:-0.448px;transform-origin:0 0;transform:scaleX(0.9300);"><span style="color:#4c4f5b">O</span>1921.265</div>
<div class="t" style="left:258.75px;top:32.84px;font-size:12px;color:#131722;letter-spacing:-0.403px;transform-origin:0 0;transform:scaleX(0.9300);"><span style="color:#4c4f5b">H</span>1928.635</div>
<div class="t" style="left:317.50px;top:32.84px;font-size:12px;color:#131722;letter-spacing:-0.332px;transform-origin:0 0;transform:scaleX(0.9300);"><span style="color:#4c4f5b">L</span>1921.265</div>
<div class="t" style="left:374.50px;top:32.84px;font-size:12px;color:#131722;letter-spacing:-0.313px;transform-origin:0 0;transform:scaleX(0.9300);"><span style="color:#4c4f5b">C</span>1924.480</div>
<div class="t" style="left:433.00px;top:32.84px;font-size:12px;color:#131722;letter-spacing:-0.333px;transform-origin:0 0;transform:scaleX(0.9300);">+3.215 (+0.17%)</div>
<div class="t" style="left:16.75px;top:48.14px;font-size:12px;color:#4c4f5b;letter-spacing:-0.064px;transform-origin:0 0;transform:scaleX(0.9300);">MA · 1D (200, close, 0)</div>
<div class="t" style="left:137.00px;top:48.14px;font-size:12px;color:#ff6d00;letter-spacing:-0.243px;transform-origin:0 0;transform:scaleX(0.9300);">1853.214</div>
<div class="t" style="left:16.75px;top:63.84px;font-size:12px;color:#4c4f5b;letter-spacing:-0.115px;transform-origin:0 0;transform:scaleX(0.9300);">MA · 1D (50, close, 0, SMA, 5)</div>
<div class="t" style="left:172.00px;top:63.84px;font-size:12px;color:#2e57c2;letter-spacing:-0.310px;transform-origin:0 0;transform:scaleX(0.9300);">1975.816</div>
<div class="t" style="left:17.00px;top:597.34px;font-size:12px;color:#4c4f5b;letter-spacing:-0.273px;transform-origin:0 0;transform:scaleX(0.9300);">RSI (14, close)</div>
<div class="t" style="left:95.00px;top:597.34px;font-size:12px;color:#131722;letter-spacing:-0.254px;transform-origin:0 0;transform:scaleX(0.9300);">40.15</div>
<div class="t" style="left:169.50px;top:75.84px;font-size:12px;color:#4a3fb5;letter-spacing:-0.263px;transform-origin:0 0;transform:scaleX(0.9300);">0(2067.000)</div>
<div class="t" style="left:147.10px;top:251.24px;font-size:12px;color:#4a3fb5;letter-spacing:-0.137px;transform-origin:0 0;transform:scaleX(0.9300);">0.382(1894.976)</div>
<div class="t" style="left:159.00px;top:304.74px;font-size:12px;color:#4a3fb5;letter-spacing:-0.116px;transform-origin:0 0;transform:scaleX(0.9300);">0.5(1841.838)</div>
<div class="t" style="left:169.00px;top:534.84px;font-size:12px;color:#4a3fb5;letter-spacing:-0.214px;transform-origin:0 0;transform:scaleX(0.9300);">1(1616.675)</div>
<div class="t" style="left:812.60px;top:59.97px;font-size:20px;color:#f23645;-webkit-text-stroke:0.68px #f23645;letter-spacing:0.422px;transform-origin:0 0;transform:scaleX(1.1000);">2,075 (ATH)</div>
<div class="t" style="left:1019.96px;top:59.86px;font-size:16px;color:#111;-webkit-text-stroke:0.54px #111;letter-spacing:0.745px;transform-origin:0 0;transform:scaleX(1.1000);">2,067 ~ 4 May 2023</div>
<div class="t" style="left:271.40px;top:84.07px;font-size:20px;color:#111;-webkit-text-stroke:0.68px #111;letter-spacing:0.491px;transform-origin:0 0;transform:scaleX(1.1000);">Daily</div>
<div class="t" style="left:265.10px;top:105.27px;font-size:20px;color:#0b2a97;-webkit-text-stroke:0.68px #0b2a97;letter-spacing:0.000px;transform-origin:0 0;transform:scaleX(1.0804);">Gold (XAU/USD)</div>
<div class="t" style="left:974.66px;top:178.56px;font-size:16px;color:#0b2a97;-webkit-text-stroke:0.54px #0b2a97;letter-spacing:0.437px;transform-origin:0 0;transform:scaleX(1.1000);">50-day MA</div>
<div class="t" style="left:1190.40px;top:136.87px;font-size:20px;color:#f23645;-webkit-text-stroke:0.68px #f23645;letter-spacing:0.466px;transform-origin:0 0;transform:scaleX(1.1000);">1990</div>
<div class="t" style="left:1080.80px;top:192.97px;font-size:20px;color:#f23645;-webkit-text-stroke:0.68px #f23645;letter-spacing:0.284px;transform-origin:0 0;transform:scaleX(1.1000);">1940</div>
<div class="t" style="left:949.20px;top:237.67px;font-size:20px;color:#1b5e20;-webkit-text-stroke:0.68px #1b5e20;letter-spacing:0.731px;transform-origin:0 0;transform:scaleX(1.1000);">1913/1896 (MT pivot)</div>
<div class="t" style="left:1042.20px;top:279.17px;font-size:20px;color:#1b5e20;-webkit-text-stroke:0.68px #1b5e20;letter-spacing:0.148px;transform-origin:0 0;transform:scaleX(1.1000);">1856</div>
<div class="t" style="left:1046.16px;top:314.46px;font-size:16px;color:#ff6d00;-webkit-text-stroke:0.54px #ff6d00;letter-spacing:0.504px;transform-origin:0 0;transform:scaleX(1.1000);">200-day MA</div>
<div class="t" style="left:791.36px;top:426.26px;font-size:16px;color:#787b86;-webkit-text-stroke:0.54px #787b86;letter-spacing:0.705px;transform-origin:0 0;transform:scaleX(1.1000);">* bearish "Descending Triangle" almost met</div>
<div class="t" style="left:174.36px;top:547.06px;font-size:16px;color:#111;-webkit-text-stroke:0.54px #111;letter-spacing:0.824px;transform-origin:0 0;transform:scaleX(1.1000);">1,616 ~ 3 Nov 2022</div>
<div class="t" style="left:1195.01px;top:712.34px;font-size:18.5px;color:#1b5e20;-webkit-text-stroke:0.63px #1b5e20;letter-spacing:0.000px;transform-origin:0 0;transform:scaleX(1.0759);">* support</div>
<div class="t" style="left:1196.50px;top:272.84px;font-size:12px;color:#3b5b57;letter-spacing:0.000px;transform-origin:0 0;transform:scaleX(1.0029);width:132.9px;overflow:hidden;">−45.030 (−2.32%) −4503</div>
<div class="t" style="left:1338.80px;top:32.39px;font-size:11px;color:#50535e;letter-spacing:-0.935px;transform-origin:0 0;transform:scaleX(0.9300);">USD</div>
<div class="t" style="left:1337.30px;top:62.60px;font-size:12px;color:#50535e;letter-spacing:-0.263px;transform-origin:0 0;transform:scaleX(0.9300);">2080.000</div>
<div class="t" style="left:1337.30px;top:103.34px;font-size:12px;color:#50535e;letter-spacing:-0.263px;transform-origin:0 0;transform:scaleX(0.9300);">2040.000</div>
<div class="t" style="left:1337.30px;top:144.09px;font-size:12px;color:#50535e;letter-spacing:-0.263px;transform-origin:0 0;transform:scaleX(0.9300);">2000.000</div>
<div class="t" style="left:1337.30px;top:184.84px;font-size:12px;color:#50535e;letter-spacing:-0.263px;transform-origin:0 0;transform:scaleX(0.9300);">1960.000</div>
<div class="t" style="left:1337.30px;top:266.34px;font-size:12px;color:#50535e;letter-spacing:-0.263px;transform-origin:0 0;transform:scaleX(0.9300);">1880.000</div>
<div class="t" style="left:1337.30px;top:307.08px;font-size:12px;color:#50535e;letter-spacing:-0.263px;transform-origin:0 0;transform:scaleX(0.9300);">1840.000</div>
<div class="t" style="left:1337.30px;top:347.83px;font-size:12px;color:#50535e;letter-spacing:-0.263px;transform-origin:0 0;transform:scaleX(0.9300);">1800.000</div>
<div class="t" style="left:1337.30px;top:388.58px;font-size:12px;color:#50535e;letter-spacing:-0.263px;transform-origin:0 0;transform:scaleX(0.9300);">1760.000</div>
<div class="t" style="left:1337.30px;top:429.33px;font-size:12px;color:#50535e;letter-spacing:-0.263px;transform-origin:0 0;transform:scaleX(0.9300);">1720.000</div>
<div class="t" style="left:1337.30px;top:470.08px;font-size:12px;color:#50535e;letter-spacing:-0.263px;transform-origin:0 0;transform:scaleX(0.9300);">1680.000</div>
<div class="t" style="left:1337.30px;top:510.82px;font-size:12px;color:#50535e;letter-spacing:-0.263px;transform-origin:0 0;transform:scaleX(0.9300);">1640.000</div>
<div class="t" style="left:1337.30px;top:551.57px;font-size:12px;color:#50535e;letter-spacing:-0.263px;transform-origin:0 0;transform:scaleX(0.9300);">1600.000</div>
<div style="position:absolute;left:1331px;top:589.6px;width:58px;height:20px;overflow:hidden"><div class="t" style="left:1336.90px;top:586.74px;font-size:12px;color:#50535e;letter-spacing:-0.135px;transform-origin:0 0;transform:scaleX(0.9300);margin-left:-1331px;margin-top:-589.6px">80.00</div></div>
<div class="t" style="left:1336.90px;top:642.34px;font-size:12px;color:#50535e;letter-spacing:-0.135px;transform-origin:0 0;transform:scaleX(0.9300);">60.00</div>
<div class="t" style="left:1336.90px;top:697.94px;font-size:12px;color:#50535e;letter-spacing:-0.135px;transform-origin:0 0;transform:scaleX(0.9300);">40.00</div>
<div class="t c" style="left:85.00px;top:762.84px;font-size:12px;color:#50535e;">Oct</div>
<div class="t c" style="left:222.00px;top:762.84px;font-size:12px;color:#50535e;">Nov</div>
<div class="t c" style="left:365.00px;top:762.84px;font-size:12px;color:#50535e;">Dec</div>
<div class="t c" style="left:502.00px;top:762.84px;font-size:12px;color:#50535e;">2023</div>
<div class="t c" style="left:639.00px;top:762.84px;font-size:12px;color:#50535e;">Feb</div>
<div class="t c" style="left:768.00px;top:762.84px;font-size:12px;color:#50535e;">Mar</div>
<div class="t c" style="left:918.00px;top:762.84px;font-size:12px;color:#50535e;">Apr</div>
<div class="t c" style="left:1041.00px;top:762.84px;font-size:12px;color:#50535e;">May</div>
<div class="t" style="left:1132.00px;top:763.24px;font-size:12px;color:#fff;font-weight:bold;letter-spacing:-0.404px;transform-origin:0 0;transform:scaleX(0.9300);">Fri 26 May '23</div>
<div class="t" style="left:31.00px;top:791.85px;font-size:11.4px;color:#3a3e49;letter-spacing:0.000px;transform-origin:0 0;transform:scaleX(1.0337);">TradingView</div>
<div class="lb" style="top:70.7px;background:#f23645"><span>2070.630</span></div>
<div class="lb" style="top:151.7px;background:#f23645"><span>1991.000</span></div>
<div class="lb" style="top:203.6px;background:#f23645"><span>1940.000</span></div>
<div class="lb" style="top:219.8px;background:#000"><span>1924.480</span></div>
<div class="lb" style="top:235.9px;background:#1b5e20"><span>1913.260</span></div>
<div class="lb" style="top:251.6px;background:#1b5e20"><span>1896.675</span></div>
<div class="lb" style="top:293.2px;background:#1b5e20"><span>1852.780</span></div>
</body></html>
